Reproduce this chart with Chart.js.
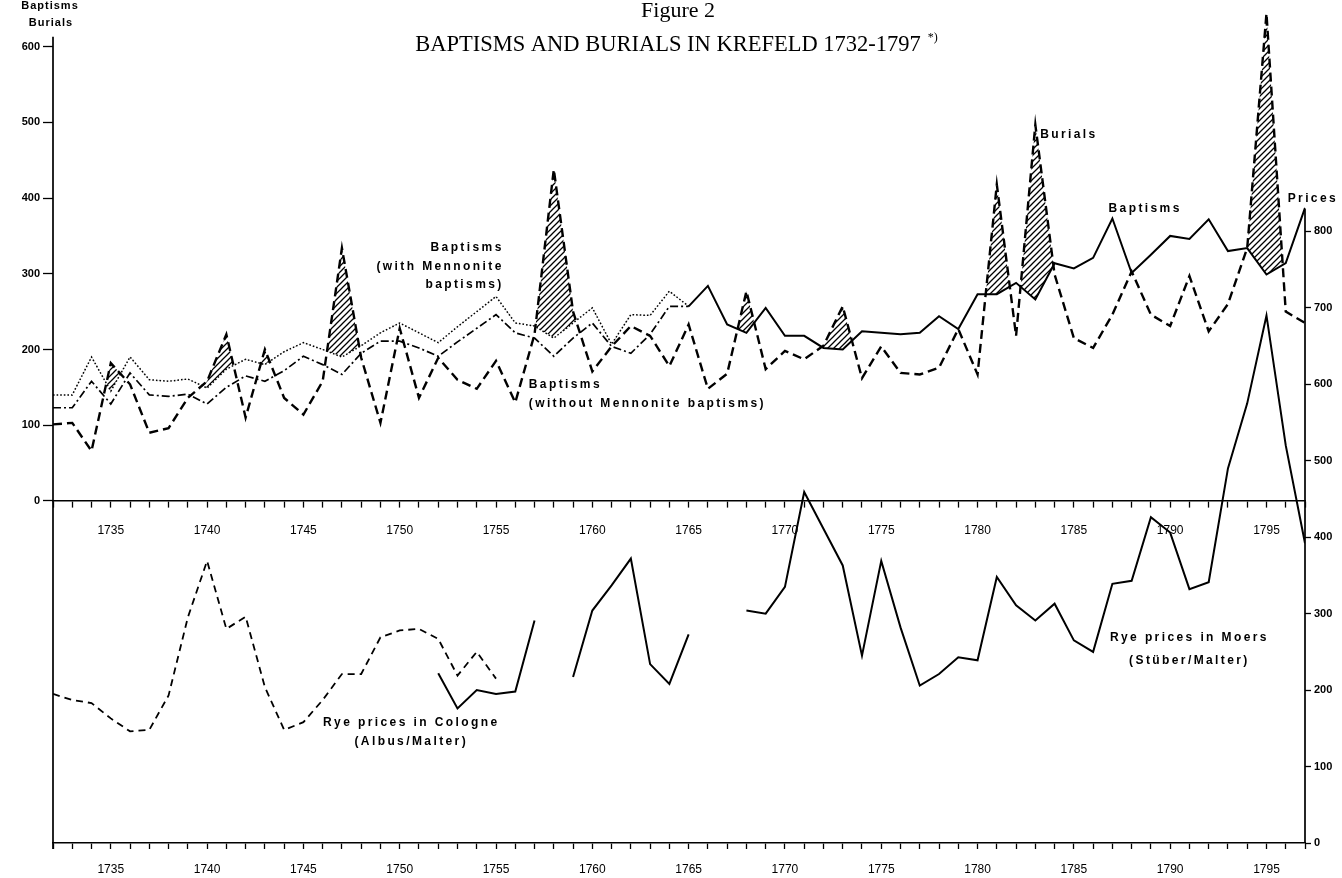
<!DOCTYPE html>
<html>
<head>
<meta charset="utf-8">
<script src="https://cdn.jsdelivr.net/npm/chart.js@4.4.1/dist/chart.umd.min.js"></script>
<style>
html,body{margin:0;padding:0;background:#fff;}
#wrap{width:1342px;height:878px;position:relative;}
</style>
</head>
<body>
<div id="wrap"><canvas id="c" width="1342" height="878"></canvas></div>
<script>
// ---------- DATA ----------
const years = [1732,1733,1734,1735,1736,1737,1738,1739,1740,1741,1742,1743,1744,1745,1746,1747,1748,1749,1750,1751,1752,1753,1754,1755,1756,1757,1758,1759,1760,1761,1762,1763,1764,1765,1766,1767,1768,1769,1770,1771,1772,1773,1774,1775,1776,1777,1778,1779,1780,1781,1782,1783,1784,1785,1786,1787,1788,1789,1790,1791,1792,1793,1794,1795,1796,1797];

const burials = [101,103,66,182,154,90,96,136,158,220,110,200,136,114,158,334,189,103,228,136,189,160,148,185,130,220,438,250,171,204,231,218,178,233,148,168,277,174,198,187,205,257,162,204,169,167,176,227,167,418,218,497,299,215,202,246,303,246,231,297,224,260,334,644,250,235];

// Baptisms: with Mennonite baptisms up to 1765 (dotted), then total baptisms (solid)
const baptisms = [140,140,190,145,190,160,158,161,149,174,187,180,197,209,200,190,205,222,235,222,209,230,250,270,235,231,215,235,255,207,246,245,277,257,284,233,222,255,218,218,202,200,224,222,220,222,244,227,273,273,288,266,314,307,321,373,301,325,350,346,372,330,334,299,314,387];
const baptismStyleChangeYear = 1765;

const withoutYears = [1732,1733,1734,1735,1736,1737,1738,1739,1740,1741,1742,1743,1744,1745,1746,1747,1748,1749,1750,1751,1752,1753,1754,1755,1756,1757,1758,1759,1760,1761,1762,1763,1764,1765];
const baptismsWithout = [123,123,158,128,169,140,138,141,128,150,165,158,172,191,180,167,195,211,211,202,191,210,228,246,222,215,191,215,235,204,195,220,257,257];

const cologneYears = [1732,1733,1734,1735,1736,1737,1738,1739,1740,1741,1742,1743,1744,1745,1746,1747,1748,1749,1750,1751,1752,1753,1754,1755];
const colognePrices = [195,187,183,163,146,148,193,295,369,280,296,204,148,158,187,221,221,269,278,280,267,219,250,215];

const moersYears = [1752,1753,1754,1755,1756,1757,1758,1759,1760,1761,1762,1763,1764,1765,1766,1767,1768,1769,1770,1771,1772,1773,1774,1775,1776,1777,1778,1779,1780,1781,1782,1783,1784,1785,1786,1787,1788,1789,1790,1791,1792,1793,1794,1795,1796,1797];
const moersPrices = [222,176,200,195,198,291,null,217,304,337,372,234,208,273,null,null,304,300,335,459,411,363,245,369,282,206,221,243,239,348,311,291,313,265,250,339,343,426,406,332,341,490,575,690,520,392];

const leftTicks = [0,100,200,300,400,500,600];
const rightTicks = [0,100,200,300,400,500,600,700,800];
const yearLabelStep = 5;

// ---------- HELPERS ----------
const pts = (xs, ys) => xs.map((v, i) => ({x: v, y: ys[i]}));

function hatchPattern() {
  const c = document.createElement('canvas');
  c.width = 6; c.height = 6;
  const g = c.getContext('2d');
  g.strokeStyle = '#000';
  g.lineWidth = 1.3;
  g.beginPath();
  g.moveTo(0, 6); g.lineTo(6, 0);
  g.moveTo(-1, 1); g.lineTo(1, -1);
  g.moveTo(5, 7); g.lineTo(7, 5);
  g.stroke();
  return g.createPattern(c, 'repeat');
}

const SANS = '"Liberation Sans", Arial, sans-serif';
const SERIF = '"Liberation Serif", "Times New Roman", serif';

function xAxis(extra) {
  return Object.assign({
    type: 'linear', min: 1732, max: 1797,
    afterBuildTicks: s => { s.ticks = years.map(v => ({value: v})); },
    grid: {drawOnChartArea: false, drawTicks: true, tickLength: 6, color: '#000', tickWidth: 1.3},
    border: {display: true, color: '#000', width: 1.6}
  }, extra);
}
const xTicks = pad => ({
  autoSkip: false, maxRotation: 0, minRotation: 0, color: '#000', padding: pad,
  font: {family: SANS, size: 12},
  callback: v => (v % yearLabelStep === 0 ? String(v) : '')
});

const annotate = {
  id: 'annotate',
  afterDraw(chart) {
    const {ctx} = chart;
    const x = chart.scales.x, y = chart.scales.y, yL = chart.scales.yL;
    ctx.save();
    ctx.strokeStyle = '#000';
    ctx.fillStyle = '#000';
    ctx.lineWidth = 1.7;
    ctx.beginPath();
    ctx.moveTo(x.left, yL.getPixelForValue(613));
    ctx.lineTo(x.left, y.bottom + 6);
    ctx.moveTo(x.right, y.getPixelForValue(830));
    ctx.lineTo(x.right, y.bottom);
    ctx.stroke();

    // titles
    ctx.textAlign = 'center';
    ctx.textBaseline = 'middle';
    ctx.font = '22px ' + SERIF;
    ctx.fillText('Figure 2', 678, 11);
    ctx.font = '22.5px ' + SERIF;
    const t = 'BAPTISMS AND BURIALS IN KREFELD 1732-1797';
    const w = ctx.measureText(t).width;
    const tx = 668 - w / 2;
    ctx.textAlign = 'left';
    ctx.fillText(t, tx, 45);
    ctx.font = '12px ' + SERIF;
    ctx.fillText('*)', tx + w + 7, 38);

    // labels
    const lab = (text, year, value, scale, align) => {
      ctx.font = 'bold 12px ' + SANS;
      ctx.textAlign = align;
      ctx.fillText(text, x.getPixelForValue(year), scale.getPixelForValue(value));
    };
    try { ctx.letterSpacing = '2.4px'; } catch (e) {}
    ctx.textBaseline = 'middle';
    lab('Burials', 1783.25, 484, yL, 'left');
    lab('Baptisms', 1786.8, 386, yL, 'left');
    lab('Prices', 1796.1, 399, yL, 'left');
    lab('Baptisms', 1755.4, 334, yL, 'right');
    lab('(with Mennonite', 1755.4, 310, yL, 'right');
    lab('baptisms)', 1755.4, 286, yL, 'right');
    lab('Baptisms', 1756.7, 153, yL, 'left');
    lab('(without Mennonite baptisms)', 1756.7, 128, yL, 'left');
    lab('Rye prices in Cologne', 1750.6, 158, y, 'center');
    lab('(Albus/Malter)', 1750.6, 132, y, 'center');
    lab('Rye prices in Moers', 1791.0, 269, y, 'center');
    lab('(Stüber/Malter)', 1791.0, 239, y, 'center');

    try { ctx.letterSpacing = '1px'; } catch (e) {}
    ctx.font = 'bold 11px ' + SANS;
    ctx.textAlign = 'center';
    ctx.fillText('Baptisms', 50, 6);
    ctx.fillText('Burials', 51, 23);
    ctx.restore();
  }
};

const hatch = hatchPattern();

new Chart(document.getElementById('c'), {
  type: 'line',
  data: {
    datasets: [
      {
        label: 'Burials', data: pts(years, burials), yAxisID: 'yL',
        borderColor: '#000', borderWidth: 2.4, borderDash: [9, 5],
        pointRadius: 0, borderJoinStyle: 'miter',
        fill: {target: 1, above: hatch, below: 'rgba(0,0,0,0)'}
      },
      {
        label: 'Baptisms', data: pts(years, baptisms), yAxisID: 'yL',
        borderColor: '#000', borderWidth: 2, pointRadius: 0, fill: false, borderJoinStyle: 'miter',
        segment: {
          borderDash: c => (c.p1.parsed.x <= baptismStyleChangeYear ? [1.6, 2] : []),
          borderWidth: c => (c.p1.parsed.x <= baptismStyleChangeYear ? 1.5 : 2)
        }
      },
      {
        label: 'Baptisms (without Mennonite baptisms)', data: pts(withoutYears, baptismsWithout), yAxisID: 'yL',
        borderColor: '#000', borderWidth: 1.7, borderDash: [8, 3, 2, 3], pointRadius: 0, fill: false
      },
      {
        label: 'Rye prices in Cologne', data: pts(cologneYears, colognePrices), yAxisID: 'y',
        borderColor: '#000', borderWidth: 1.8, borderDash: [7, 5], pointRadius: 0, fill: false
      },
      {
        label: 'Rye prices in Moers', data: pts(moersYears, moersPrices), yAxisID: 'y',
        borderColor: '#000', borderWidth: 2, pointRadius: 0, fill: false, spanGaps: false, borderJoinStyle: 'miter'
      }
    ]
  },
  options: {
    responsive: false, animation: false, devicePixelRatio: 1,
    layout: {padding: {top: 8, left: 0, right: 0, bottom: 0}},
    plugins: {legend: {display: false}, tooltip: {enabled: false}, title: {display: false}},
    elements: {line: {tension: 0}},
    scales: {
      x: xAxis({
        position: 'bottom',
        ticks: xTicks(13),
        afterFit: s => { s.height = 35; }
      }),
      x2: xAxis({
        axis: 'x', position: {yL: 0},
        ticks: xTicks(17)
      }),
      yL: {
        type: 'linear', position: 'left', min: -452, max: 649,
        afterBuildTicks: s => { s.ticks = leftTicks.map(v => ({value: v})); },
        ticks: {color: '#000', padding: 3, font: {family: SANS, size: 11, weight: 'bold'}},
        grid: {drawOnChartArea: false, drawTicks: true, tickLength: 10, color: '#000', tickWidth: 1.3},
        border: {display: false},
        afterFit: s => { s.width = 53; }
      },
      y: {
        type: 'linear', position: 'right', min: 0, max: 1090,
        afterBuildTicks: s => { s.ticks = rightTicks.map(v => ({value: v})); },
        ticks: {color: '#000', padding: 3, font: {family: SANS, size: 11, weight: 'bold'}},
        grid: {drawOnChartArea: false, drawTicks: true, tickLength: 6, color: '#000', tickWidth: 1.3},
        border: {display: false},
        afterFit: s => { s.width = 37; }
      }
    }
  },
  plugins: [annotate]
});
</script>
</body>
</html>
